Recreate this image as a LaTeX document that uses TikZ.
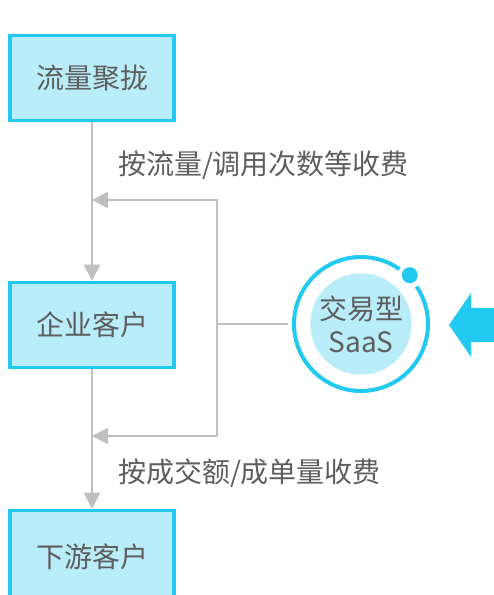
\documentclass[tikz,border=0pt]{standalone}
\usepackage[x11names, svgnames, rgb]{xcolor}
\usepackage{fontspec}
\setmainfont{Noto Sans CJK SC}
\usepackage{tikz}
\usetikzlibrary{arrows.meta}

\definecolor{saascyan}{HTML}{22C9F1}
\definecolor{saaslight}{HTML}{BAEDFA}
\definecolor{saasgray}{HTML}{BFBFBF}
\definecolor{saastext}{HTML}{5E5E5E}

\begin{document}
\begin{tikzpicture}[>={Triangle[length=16bp,width=16bp]},line join=miter,
  line width=2bp, draw=saasgray,
  box/.style={draw=saascyan,line width=3.5bp,fill=saaslight,rectangle,
    minimum width=164bp,minimum height=85bp,inner sep=0pt},
  txt/.style={text=saastext,font=\fontsize{28bp}{33bp}\selectfont}]
\useasboundingbox (0bp,0bp) rectangle (494bp,595bp);
%%
\node (flow) at (92.0bp,517.0bp) [box,txt] {流量聚拢};
  \node (client) at (92.0bp,270.0bp) [box,txt] {企业客户};
  \node (down) at (92.0bp,38.0bp) [box,minimum height=93bp,txt] {下游客户};
  \node (saas) at (361.0bp,271.0bp) [circle,fill=saaslight,minimum size=92bp,inner sep=0pt,outer sep=22bp,txt,align=center] {交易型\\SaaS};
  \node (fee1) at (117.0bp,430.0bp) [anchor=west,inner sep=0pt,txt] {按流量/调用次数等收费};
  \node (fee2) at (117.0bp,122.0bp) [anchor=west,inner sep=0pt,txt] {按成交额/成单量收费};
  \coordinate (hub) at (217.0bp,271.0bp);
  \coordinate (in1) at (92.0bp,395.0bp);
  \coordinate (in2) at (92.0bp,159.0bp);
%
  \draw [saascyan,line width=4bp] (saas.center) ++(55:67bp) arc (55:394:67bp);
  \fill [saascyan] (saas.center) ++(45:69bp) circle (8bp);
  \fill [saascyan] (449.0bp,270.0bp) -- (471.0bp,302.0bp) -- (471.0bp,287.0bp) -- (494.0bp,287.0bp)
    -- (494.0bp,253.0bp) -- (471.0bp,253.0bp) -- (471.0bp,238.0bp) -- cycle;
%
  \draw [->,saasgray] (flow) -- (client);
  \draw [->,saasgray] (client) -- (down);
  \draw [saasgray] (saas.west) -- (hub);
  \draw [->,saasgray] (hub) |- (in1);
  \draw [->,saasgray] (hub) |- (in2);
%
\end{tikzpicture}
\end{document}
